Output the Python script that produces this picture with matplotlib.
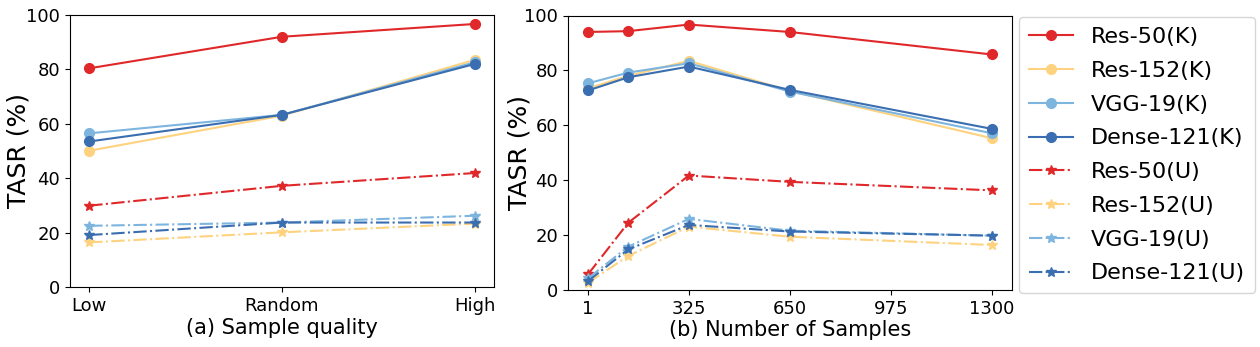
import matplotlib
matplotlib.use("Agg")
import matplotlib.pyplot as plt

quality_labels = ["Low", "Random", "High"]
samples_x = [1, 130, 325, 650, 1300]
samples_ticks = [1, 325, 650, 975, 1300]

models = ["Res-50", "Res-152", "VGG-19", "Dense-121"]
colors = ["#e0282a", "#fed27f", "#7db5df", "#3a6eb0"]

# (a) Sample quality
qa_known = {
    "Res-50": [80.4, 92.0, 96.7],
    "Res-152": [50.1, 63.0, 83.5],
    "VGG-19": [56.5, 63.3, 82.6],
    "Dense-121": [53.5, 63.3, 82.0],
}
qa_unknown = {
    "Res-50": [29.9, 37.2, 41.9],
    "Res-152": [16.4, 20.1, 23.3],
    "VGG-19": [22.5, 23.7, 26.2],
    "Dense-121": [19.1, 23.7, 23.7],
}

# (b) Number of samples
ns_known = {
    "Res-50": [94.0, 94.3, 96.7, 94.0, 85.8],
    "Res-152": [73.5, 78.0, 83.5, 72.5, 55.3],
    "VGG-19": [75.3, 79.2, 82.6, 72.3, 57.1],
    "Dense-121": [72.7, 77.5, 81.4, 72.9, 58.7],
}
ns_unknown = {
    "Res-50": [5.8, 24.5, 41.7, 39.4, 36.3],
    "Res-152": [2.7, 12.4, 23.1, 19.4, 16.4],
    "VGG-19": [4.3, 15.8, 25.9, 21.6, 19.8],
    "Dense-121": [3.3, 14.8, 23.7, 21.3, 19.8],
}

fig = plt.figure(figsize=(12.6, 3.47), dpi=100)
W, H = 1260, 347
ax1 = fig.add_axes([70 / W, 1 - 287 / H, (494 - 70) / W, (287 - 15) / H])
ax2 = fig.add_axes([568 / W, 1 - 290 / H, (1012 - 568) / W, (290 - 15.5) / H])

xq = list(range(len(quality_labels)))
handles = []
for m, c in zip(models, colors):
    h, = ax1.plot(xq, qa_known[m], "-o", color=c, lw=1.5, ms=7, label=f"{m}(K)")
    handles.append(h)
for m, c in zip(models, colors):
    h, = ax1.plot(xq, qa_unknown[m], "-.*", color=c, lw=1.5, ms=7, label=f"{m}(U)")
    handles.append(h)

for m, c in zip(models, colors):
    ax2.plot(samples_x, ns_known[m], "-o", color=c, lw=1.5, ms=7)
for m, c in zip(models, colors):
    ax2.plot(samples_x, ns_unknown[m], "-.*", color=c, lw=1.5, ms=7)

ax1.set_xticks(xq)
ax1.set_xticklabels(quality_labels)
ax2.set_xticks(samples_ticks)

for ax in (ax1, ax2):
    ax.set_ylim(0, 100)
    ax.set_yticks([0, 20, 40, 60, 80, 100])
    ax.tick_params(labelsize=13)
    ax.set_ylabel("TASR (%)", fontsize=18)

ax1.yaxis.set_label_coords((31 - 70) / 424, 0.5)
ax2.yaxis.set_label_coords((531 - 568) / 444, 0.5)

ax1.set_xlabel("(a) Sample quality", fontsize=15, labelpad=2)
ax2.set_xlabel("(b) Number of Samples", fontsize=15, labelpad=2)

fig.legend(handles=handles, loc="upper left", bbox_to_anchor=(1019 / W, 1 - 17 / H),
           fontsize=16, frameon=True, borderaxespad=0, labelspacing=0.62,
           borderpad=0.45)

fig.savefig("out.png", dpi=100)
